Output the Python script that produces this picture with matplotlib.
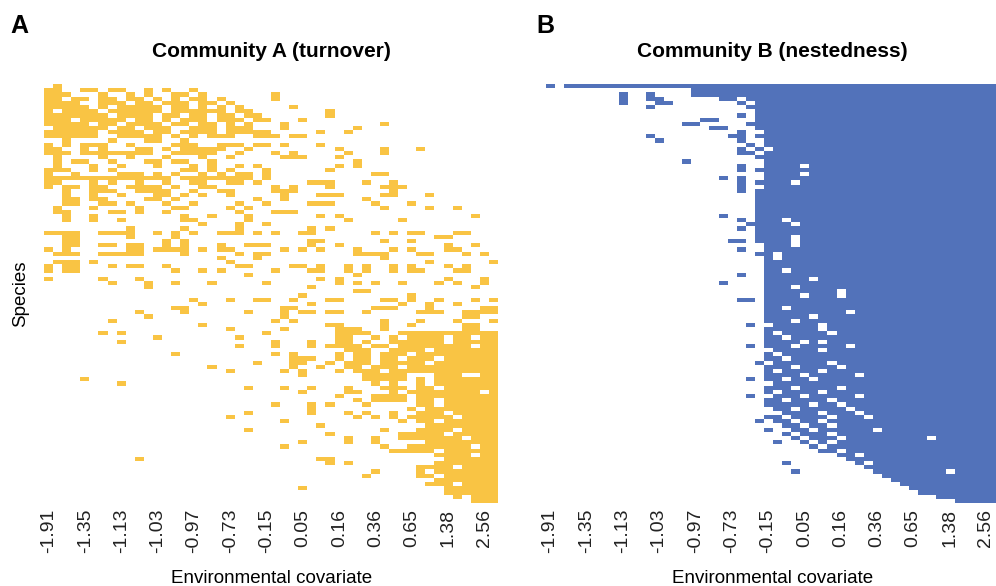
import numpy as np
import matplotlib.pyplot as plt
from matplotlib.colors import ListedColormap

plt.rcParams['font.family'] = ['Liberation Sans', 'DejaVu Sans']

# Site labels (environmental covariate), shown every 4th site
x_labels = ["-1.91", "-1.35", "-1.13", "-1.03", "-0.97", "-0.73", "-0.15",
            "0.05", "0.16", "0.36", "0.65", "1.38", "2.56"]
n_sites = 50
n_species = 100

# Occupied sites for each species (top row first); "a-b" is a run of sites
turnover_rows = [
    "1",
    "0-1 4-5 7-8 11 13 16",
    "0-2 6 9 11 14-15 17 25",
    "0-1 3-4 6-7 9-10 12 14 16-17 19 25",
    "0-3 6-8 10-11 13-15 17-18 20",
    "0-4 6 8-12 14-15 17 19 21 27",
    "0 2-5 7-12 14-19 21-22 31",
    "0-6 8-11 13-14 16-17 19-20 22-23 31",
    "0-2 4-8 10-11 13 15-17 19-21 23-24 28",
    "0-4 6-7 9-12 14-15 17-18 20 22 26 37",
    "1-6 8-9 11-13 16-18 20-22 26 34",
    "0-5 7-10 12-13 15-18 20-24 30 33",
    "0-5 8-12 14 16 18-20 23-25 27-28",
    "2 7 11-12 15",
    "0 2 4-6 9 14-16 19-21 23-24 26 30",
    "0-1 4 6 10-11 13 15-19 22 32 37 41",
    "0-2 4-11 14-18 21 25 27 33 37",
    "1 6 9 13 17 20 26-28 32",
    "1 3-4 7 11-12 14-15 18 34",
    "1 5 8 12 16 18 21 23 32 34",
    "0-2 5 7 15-16 18 20 24 31",
    "0 3 8-10 12 14 17 19 21-22 24 36-37",
    "0-13 15-22 24",
    "0-1 5 7 10 13 16-17 20-21 23 29-31 35 38",
    "0 2-3 5-6 9-12 14 17-18 25 27 31 37-39",
    "2 5-7 10-13 16 19-20 25-27 38",
    "2 5 8 12-13 15 17 20 26 30-32 37-38 42",
    "2-3 5-6 11-12 14 23 26 35",
    "2-3 6-7 9 13 16 21 24 29-31 36 40",
    "1 5 10 14-15 20 22 37 42 45",
    "1-2 7-8 10 13 21 25-27",
    "2 5 15 18 22 30 32 47",
    "2 5 8 15-16 22 33 39",
    "17 21 24",
    "9 15 21 29 31",
    "0-3 6-9 12 14 16 19-21 23 25 28-29 36 38 40-41 45-46",
    "2-3 9 14 43-44",
    "2-3 13 15 29-30 37 40",
    "2-3 6-7 9-10 13 15 19 22-24 29 32 44 47",
    "0 2 9-10 12-15 17 19-20 26 28 30 34 38 40 44-45",
    "1-3 6-10 15 21 23-24 34-37 41-42 46 48",
    "19 23 37",
    "1-3 5 20 42 49",
    "0 2-3 7 9-10 13 21-22 27-28 30 33 35 38 40 44 46",
    "0 2-3 14 17 19 25 29-30 33 35 38 40-41 45-46",
    "22 34",
    "0 6 10 30 32 44 48",
    "7 11 14 18 24 32 34 36 39 43 45 48",
    "11 29 47",
    "34-35",
    "28 40",
    "16 20 23-24 27 31-32 37-38 40 43 47 49",
    "17 29 39 42 45",
    "14-15 26-27 36-38 42 48-49",
    "10 15 22 26 28-29 31-32 35 41-43 46-49",
    "11 26 46-47",
    "7 25 27 37 41 45 49",
    "17 31-32 37 40 46-47",
    "20 26 32-34 37 46-47",
    "6 8 24 32-35 39-49",
    "12 21 32-33 36 38 40-43 45-46 48-49",
    "8 25 29 32-33 35 38-43 45-49",
    "21 25 29 31-34 36-37 39-46 48-49",
    "33-35 38-41 43-49",
    "14 25 27 32 34-35 37-39 41-49",
    "27-29 32 34-35 37-38 40-42 44-49",
    "23 27-28 31 33-35 37-41 43-49",
    "18 27 30 33-34 36-38 40-49",
    "20 26 28 32 34-36 38-49",
    "28 35-39 43-45 48-49",
    "4 35-39 41 43-49",
    "8 36 38 41 43-49",
    "22 26 29 33 37-39 41-42 44-49",
    "28 33-34 38 40-47 49",
    "32 36-39 41-49",
    "34 36-39 41-42 44-49",
    "25 29 31 35 41-42 44-49",
    "29 40 42-49",
    "22 29 33 35 38 41-43 45-49",
    "20 34 36 38 40-44 46-49",
    "26 39 41-42 44-49",
    "30 42-49",
    "22 37 41-44 46-49",
    "31 39-43 45-49",
    "33 36 39-45 47-49",
    "28 33 36 42-49",
    "26 37 40-46 48-49",
    "38-42 44-49",
    "43-46 48-49",
    "10 30-31 44-49",
    "31 33 43-49",
    "41-44 46-49",
    "36 41 43-49",
    "35 41-42 44-49",
    "43-49",
    "42-44 46-49",
    "28 44-49",
    "44-49",
    "45 47-49",
    "47-49",
]

nested_rows = [
    "0 2-49",
    "16-49",
    "8 11 16-49",
    "8 11-12 19-20 22-49",
    "8 12-13 21 23-49",
    "11 22-49",
    "23-49",
    "21 23-49",
    "17-18 23-49",
    "15-16 22-49",
    "18-19 23-49",
    "21 24-49",
    "11 20-21 23-49",
    "12 21 24-49",
    "22 24-49",
    "21 23 25-49",
    "21-22 24-49",
    "23-49",
    "15 24-49",
    "21 24-27 29-49",
    "21 23-49",
    "24-27 29-49",
    "19 21 24-49",
    "21 23-26 28-49",
    "21 24-49",
    "21 23-49",
    "23-49",
    "23-49",
    "23-49",
    "23-49",
    "23-49",
    "19 23-49",
    "21 23-25 27-49",
    "22-26 28-49",
    "21 23-49",
    "23-49",
    "23-26 28-49",
    "20-21 23-26 28-49",
    "24-26 28-49",
    "21 24-49",
    "23-24 26-49",
    "24 26-49",
    "24-49",
    "24-49",
    "24-25 27-49",
    "21 24-49",
    "24-28 30-49",
    "19 24-49",
    "24-26 28-49",
    "24-31 33-49",
    "24-27 29-31 33-49",
    "21-22 24-49",
    "24-49",
    "24-25 27-49",
    "24-32 34-49",
    "24-28 30-49",
    "24-26 28-49",
    "22 25-29 31-49",
    "24-29 31-49",
    "24 26-30 32-49",
    "24-25 27-49",
    "24-27 29 31-49",
    "22 24-26 28-32 34-49",
    "25-29 31-49",
    "24 26-49",
    "24-25 27-49",
    "23 25-30 32-49",
    "24-26 28-31 33-49",
    "24 26-29 31-49",
    "24-27 29-33 35-49",
    "22 24-25 27-28 30-49",
    "25-49",
    "24-26 28-31 33-49",
    "24 26-29 31-49",
    "22 25-27 29-33 35-49",
    "24-25 27-30 32-49",
    "24-28 30-31 33-49",
    "25-26 28-32 34-49",
    "26-29 31-33 35-49",
    "24-25 27-30 32-34 36-49",
    "23 25-26 28-29 31-49",
    "26-27 29-30 32-49",
    "24 27-28 30-35 37-49",
    "26 28-30 32-49",
    "27 29-31 33-41 43-49",
    "25 28 30 32-49",
    "29 31-49",
    "30-31 33-49",
    "32-33 35-49",
    "33-49",
    "26 34 36-49",
    "35-49",
    "27 36-43 45-49",
    "37-49",
    "38-49",
    "39-49",
    "40-49",
    "41-49",
    "43-49",
    "45-49",
]

yellow = "#F9C444"
blue = "#5272BA"


def to_matrix(rows):
    m = np.zeros((n_species, n_sites), dtype=int)
    for i, spec in enumerate(rows):
        for part in spec.split():
            if "-" in part:
                a, b = part.split("-")
                m[i, int(a):int(b) + 1] = 1
            else:
                m[i, int(part)] = 1
    return m


fig = plt.figure(figsize=(9.96, 5.86), dpi=100)
W, H = 996, 586
panels = [
    ("A", "Community A (turnover)", turnover_rows, yellow, 44.3, 10, True),
    ("B", "Community B (nestedness)", nested_rows, blue, 545.5, 536, False),
]
for letter, title, rows, color, x0, lx, ylab in panels:
    ax = fig.add_axes([x0 / W, 1 - 503 / H, 454 / W, 419 / H])
    m = to_matrix(rows)
    ax.imshow(m, cmap=ListedColormap(["white", color]), vmin=0, vmax=1,
              aspect="auto", interpolation="nearest")
    ticks = np.arange(0, n_sites, 4)
    ax.set_xticks(ticks)
    ax.set_xticklabels(x_labels, rotation=90, fontsize=14, color="#222222")
    ax.tick_params(axis="x", length=0, pad=4)
    ax.set_yticks([])
    for s in ax.spines.values():
        s.set_visible(False)
    ax.set_xlabel("Environmental covariate", fontsize=13.5, labelpad=12)
    if ylab:
        ax.set_ylabel("Species", fontsize=13.5, labelpad=11)
    ax.set_title(title, fontsize=15, fontweight="bold", pad=19.5)
    fig.text(lx / W, 1 - 26 / H, letter, fontsize=18,
             fontweight="bold", ha="left", va="center")

fig.savefig("out.png", dpi=100)
